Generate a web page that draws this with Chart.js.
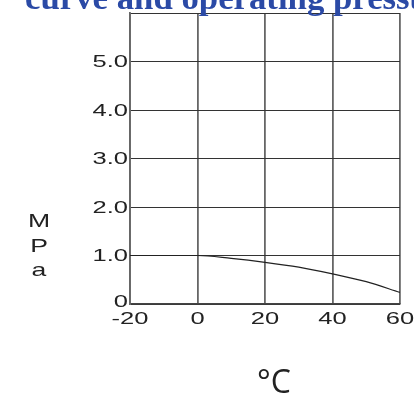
<!DOCTYPE html>
<html>
<head>
<meta charset="utf-8">
<script src="https://cdn.jsdelivr.net/npm/chart.js@4/dist/chart.umd.min.js"></script>
<style>
  body { margin: 0; background: #fff; overflow: hidden; }
  canvas { display: block; }
</style>
</head>
<body>
<canvas id="chart" width="414" height="396"></canvas>
<script>
// temperature vs pressure curve
var temps = [-20, 0, 10, 20, 30, 40, 50, 60];
var pressure = [1.0, 1.0, 0.94, 0.86, 0.76, 0.62, 0.46, 0.24];

var xTickValues = [-20, 0, 20, 40, 60];
var xTickLabels = ['-20', '0', '20', '40', '60'];
var yTickValues = [0, 1, 2, 3, 4, 5];
var yTickLabels = ['0', '1.0', '2.0', '3.0', '4.0', '5.0'];

var titleText = 'curve and operating pressure';
var yUnit = ['M', 'P', 'a'];
var xUnit = '°C';

// draw labels stretched sideways like the original scan
function stretchText(ctx, txt, x, y, sx, align) {
  ctx.save();
  ctx.translate(x, y);
  ctx.scale(sx, 1);
  ctx.textAlign = align;
  ctx.fillText(txt, 0, 0);
  ctx.restore();
}

var labelPlugin = {
  id: 'labels',
  afterDraw: function(chart) {
    var ctx = chart.ctx;
    var xs = chart.scales.x, ys = chart.scales.y;
    ctx.save();
    ctx.fillStyle = '#222';
    ctx.font = '17px "Liberation Sans", Arial, sans-serif';
    ctx.textBaseline = 'middle';
    for (var i = 0; i < yTickValues.length; i++) {
      var py = ys.getPixelForValue(yTickValues[i]);
      if (yTickValues[i] == 0) py -= 3;
      stretchText(ctx, yTickLabels[i], chart.chartArea.left - 2, py + 1, 1.5, 'right');
    }
    for (var j = 0; j < xTickValues.length; j++) {
      var px = xs.getPixelForValue(xTickValues[j]);
      stretchText(ctx, xTickLabels[j], px, chart.chartArea.bottom + 15, 1.5, 'center');
    }
    // MPa down the side
    ctx.textBaseline = 'alphabetic';
    ctx.font = '19px "Liberation Sans", Arial, sans-serif';
    var base = [227, 252, 276];
    for (var k = 0; k < yUnit.length; k++) {
      stretchText(ctx, yUnit[k], 39, base[k], 1.4, 'center');
    }
    // degree unit
    ctx.font = '32px "Open Sans", "Noto Sans", sans-serif';
    ctx.textAlign = 'left';
    ctx.fillText(xUnit, 257, 393);
    // cut off title at the top
    ctx.fillStyle = '#2b4aa6';
    ctx.font = 'bold 34px "Liberation Serif", "Times New Roman", serif';
    var sx = 308 / ctx.measureText('curve and operating ').width;
    stretchText(ctx, titleText, 25, 9, sx, 'left');
    ctx.restore();
  }
};

var ctx = document.getElementById('chart').getContext('2d');
var chart = new Chart(ctx, {
  type: 'line',
  data: {
    datasets: [{
      data: temps.map(function(t, i) { return { x: t, y: pressure[i] }; }),
      borderColor: '#222',
      borderWidth: 1.2,
      pointRadius: 0,
      fill: false,
      cubicInterpolationMode: 'monotone'
    }]
  },
  options: {
    responsive: false,
    animation: false,
    layout: { padding: { left: 130, right: 14, top: 13, bottom: 92 } },
    plugins: { legend: { display: false }, tooltip: { enabled: false } },
    scales: {
      x: {
        type: 'linear',
        min: -20, max: 60,
        afterBuildTicks: function(s) { s.ticks = xTickValues.map(function(v) { return { value: v }; }); },
        ticks: { display: false },
        grid: { color: '#666', lineWidth: 1.8, drawTicks: false },
        border: { color: '#444', width: 1.5 }
      },
      y: {
        min: 0, max: 6,
        ticks: { display: false, stepSize: 1 },
        grid: { color: '#333', lineWidth: 1, drawTicks: false },
        border: { color: '#666', width: 1.8 }
      }
    }
  },
  plugins: [labelPlugin]
});
</script>
</body>
</html>
